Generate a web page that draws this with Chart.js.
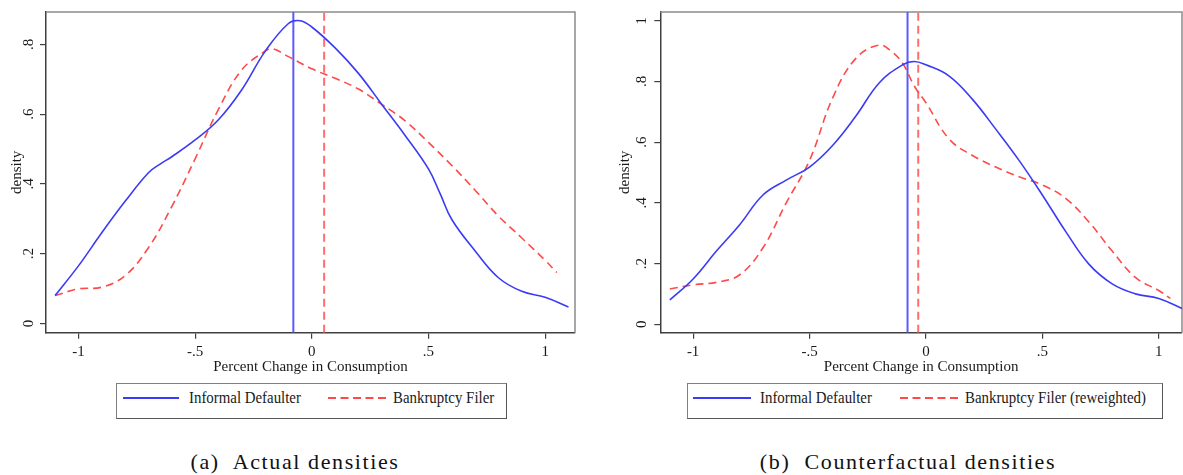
<!DOCTYPE html>
<html><head><meta charset="utf-8">
<script src="https://cdn.jsdelivr.net/npm/chart.js@4"></script>
<style>
html,body{margin:0;padding:0;background:#fff;}
body{width:1183px;height:475px;position:relative;overflow:hidden;font-family:"Liberation Serif","Times New Roman",serif;color:#1a1a1a;}
canvas{position:absolute;top:0;}
#c1{left:0;}
#c2{left:590px;}
.lbox{position:absolute;top:383px;height:36px;box-sizing:border-box;border:1.5px solid #808080;border-right-color:#555;border-bottom-color:#555;}
.lsolid{position:absolute;height:0;border-top:2px solid #3b3bf5;}
.ldash{position:absolute;height:2px;}
.ltxt{position:absolute;top:388px;font-size:17px;line-height:20px;white-space:nowrap;transform-origin:0 50%;transform:scaleX(0.875);}
.cap{position:absolute;top:449px;font-size:22px;line-height:26px;white-space:nowrap;text-align:center;letter-spacing:1.6px;font-family:"Liberation Serif",serif;color:#111;}
</style>
</head><body>
<canvas id="c1" width="590" height="380"></canvas>
<canvas id="c2" width="593" height="380"></canvas>

<div class="lbox" style="left:116px;width:391px;"></div>
<div class="lsolid" style="left:123px;width:56px;top:397px;"></div>
<div class="ltxt" style="left:189px;">Informal Defaulter</div>
<svg class="ldash" style="left:328px;top:397px;width:58px;" width="58" height="2"><line x1="0" y1="1" x2="58" y2="1" stroke="#ff4a4a" stroke-width="2" stroke-dasharray="8 4.5"/></svg>
<div class="ltxt" style="left:393px;">Bankruptcy Filer</div>

<div class="lbox" style="left:687px;width:476px;"></div>
<div class="lsolid" style="left:693px;width:58px;top:397px;"></div>
<div class="ltxt" style="left:760px;">Informal Defaulter</div>
<svg class="ldash" style="left:900px;top:397px;width:58px;" width="58" height="2"><line x1="0" y1="1" x2="58" y2="1" stroke="#ff4a4a" stroke-width="2" stroke-dasharray="8 4.5"/></svg>
<div class="ltxt" style="left:965px;">Bankruptcy Filer (reweighted)</div>

<div class="cap" style="left:145px;width:300px;">(a)&nbsp; Actual densities</div>
<div class="cap" style="left:758px;width:300px;">(b)&nbsp; Counterfactual densities</div>

<script>
// ---------- data ----------
const xTickVals = [-1, -0.5, 0, 0.5, 1];
const xTickLabels = ['-1', '-.5', '0', '.5', '1'];
const yTickValsA = [0, 0.2, 0.4, 0.6, 0.8];
const yTickLabelsA = ['0', '.2', '.4', '.6', '.8'];
const yTickValsB = [0, 0.2, 0.4, 0.6, 0.8, 1];
const yTickLabelsB = ['0', '.2', '.4', '.6', '.8', '1'];

// (a) Actual densities
const aInformalX = [-1.1,-1.0,-0.9,-0.8,-0.7,-0.65,-0.6,-0.5,-0.4,-0.3,-0.2,-0.1,-0.05,0,0.1,0.2,0.3,0.4,0.5,0.55,0.6,0.7,0.8,0.9,1.0,1.1];
const aInformalY = [0.08,0.165,0.26,0.35,0.432,0.457,0.478,0.526,0.584,0.67,0.78,0.86,0.868,0.85,0.79,0.717,0.628,0.539,0.443,0.372,0.298,0.208,0.131,0.092,0.075,0.047];
const aFilerX = [-1.1,-1.0,-0.9,-0.8,-0.7,-0.6,-0.5,-0.4,-0.3,-0.2,-0.17,-0.1,0,0.1,0.2,0.3,0.4,0.5,0.6,0.7,0.8,0.9,1.0,1.05];
const aFilerY = [0.08,0.099,0.104,0.137,0.217,0.335,0.472,0.614,0.727,0.781,0.788,0.765,0.73,0.703,0.672,0.628,0.581,0.519,0.453,0.382,0.308,0.245,0.181,0.146];
const aInformalMean = -0.079;
const aFilerMean = 0.053;

// (b) Counterfactual densities
const bInformalX = [-1.1,-1.0,-0.9,-0.8,-0.7,-0.6,-0.5,-0.4,-0.3,-0.2,-0.1,-0.05,0,0.1,0.2,0.3,0.4,0.5,0.6,0.7,0.8,0.9,1.0,1.1];
const bInformalY = [0.08,0.149,0.241,0.328,0.426,0.475,0.518,0.59,0.687,0.796,0.855,0.866,0.855,0.818,0.741,0.643,0.54,0.426,0.306,0.198,0.133,0.1,0.085,0.052];
const bFilerX = [-1.1,-1.0,-0.9,-0.8,-0.7,-0.6,-0.5,-0.4,-0.3,-0.2,-0.15,-0.1,-0.05,0,0.1,0.2,0.3,0.4,0.5,0.6,0.7,0.8,0.9,1.0,1.05];
const bFilerY = [0.116,0.13,0.138,0.163,0.252,0.4,0.54,0.747,0.877,0.92,0.9,0.86,0.785,0.73,0.61,0.556,0.518,0.486,0.459,0.415,0.337,0.241,0.154,0.111,0.085];
const bInformalMean = -0.079;
const bFilerMean = -0.033;

// ---------- styling ----------
const BLUE = '#3b3bf5', RED = '#ff4a4a', BLUE_V = '#5a5aff', RED_V = '#ff6e6e';
const AXIS = '#404040', FRAME = '#8c8c8c', TXT = '#1a1a1a';
const FONT = {family: '"Liberation Serif", "Times New Roman", serif', size: 15};

const pts = (xs, ys) => xs.map((x, i) => ({x, y: ys[i]}));

const framePlugin = {
  id: 'frame',
  beforeDatasetsDraw(chart) {
    const {ctx, chartArea: a} = chart;
    ctx.save();
    ctx.strokeStyle = FRAME; ctx.lineWidth = 1.5;
    ctx.beginPath();
    ctx.moveTo(a.left, a.top); ctx.lineTo(a.right, a.top); ctx.lineTo(a.right, a.bottom);
    ctx.stroke();
    ctx.restore();
  }
};
const rotYLabels = {
  id: 'rotYLabels',
  afterDraw(chart, args, opts) {
    const ys = chart.scales.y, ctx = chart.ctx;
    ctx.save();
    ctx.font = FONT.size + 'px ' + FONT.family;
    ctx.fillStyle = TXT; ctx.textAlign = 'center'; ctx.textBaseline = 'middle';
    opts.values.forEach((v, i) => {
      ctx.save();
      ctx.translate(chart.chartArea.left - opts.offset, ys.getPixelForValue(v));
      ctx.rotate(-Math.PI / 2);
      ctx.fillText(opts.labels[i], 0, 0);
      ctx.restore();
    });
    ctx.restore();
  }
};

function makeChart(id, d) {
  const vline = (x, color, dash) => ({
    data: [{x, y: d.ymin}, {x, y: d.ymax}], borderColor: color, borderWidth: 2,
    borderDash: dash, pointRadius: 0, fill: false, tension: 0
  });
  new Chart(document.getElementById(id), {
    type: 'line',
    data: {datasets: [
      {data: pts(d.ix, d.iy), borderColor: BLUE, borderWidth: 1.6, pointRadius: 0, fill: false, tension: 0.4},
      {data: pts(d.fx, d.fy), borderColor: RED, borderWidth: 1.6, borderDash: [8, 5], pointRadius: 0, fill: false, tension: 0.4},
      vline(d.im, BLUE_V, []),
      vline(d.fm, RED_V, [8, 5])
    ]},
    options: {
      responsive: false, animation: false, devicePixelRatio: 1,
      layout: {padding: d.pad},
      plugins: {legend: {display: false}, tooltip: {enabled: false},
        rotYLabels: {values: d.yt, labels: d.yl, offset: d.ylo}},
      scales: {
        x: {type: 'linear', min: d.xmin, max: d.xmax,
          afterBuildTicks: s => { s.ticks = xTickVals.map(v => ({value: v})); },
          afterFit: s => { s.height = d.xh; },
          ticks: {autoSkip: false, maxRotation: 0, padding: 4, color: TXT, font: FONT,
            callback: (v) => { const i = xTickVals.indexOf(v); return i >= 0 ? xTickLabels[i] : ''; }},
          grid: {display: true, drawOnChartArea: false, drawTicks: true, tickLength: 6, color: AXIS, lineWidth: 1.2},
          border: {display: true, color: AXIS, width: 1.5},
          title: {display: true, text: 'Percent Change in Consumption', color: TXT, font: FONT, padding: {top: 0, bottom: 0}}
        },
        y: {type: 'linear', min: d.ymin, max: d.ymax,
          afterBuildTicks: s => { s.ticks = d.yt.map(v => ({value: v})); },
          afterFit: s => { s.width = d.yw; },
          ticks: {autoSkip: false, color: 'rgba(0,0,0,0)', font: FONT, callback: () => ''},
          grid: {display: true, drawOnChartArea: false, drawTicks: true, tickLength: 6, color: AXIS, lineWidth: 1.2},
          border: {display: true, color: AXIS, width: 1.5},
          title: {display: true, text: 'density', color: TXT, font: FONT, padding: {top: d.ytp, bottom: 0}}
        }
      }
    },
    plugins: [framePlugin, rotYLabels]
  });
}

makeChart('c1', {ix: aInformalX, iy: aInformalY, fx: aFilerX, fy: aFilerY, im: aInformalMean, fm: aFilerMean,
  xmin: -1.139, xmax: 1.128, ymin: -0.0266, ymax: 0.893, yt: yTickValsA, yl: yTickLabelsA,
  pad: {left: 0, top: 8, right: 15, bottom: 4}, xh: 43.3, yw: 46, ytp: 8, ylo: 17});
makeChart('c2', {ix: bInformalX, iy: bInformalY, fx: bFilerX, fy: bFilerY, im: bInformalMean, fm: bFilerMean,
  xmin: -1.141, xmax: 1.10, ymin: -0.028, ymax: 1.029, yt: yTickValsB, yl: yTickLabelsB,
  pad: {left: 0, top: 8.3, right: 1, bottom: 4}, xh: 43.3, yw: 70.3, ytp: 26, ylo: 18});
</script>
</body></html>
